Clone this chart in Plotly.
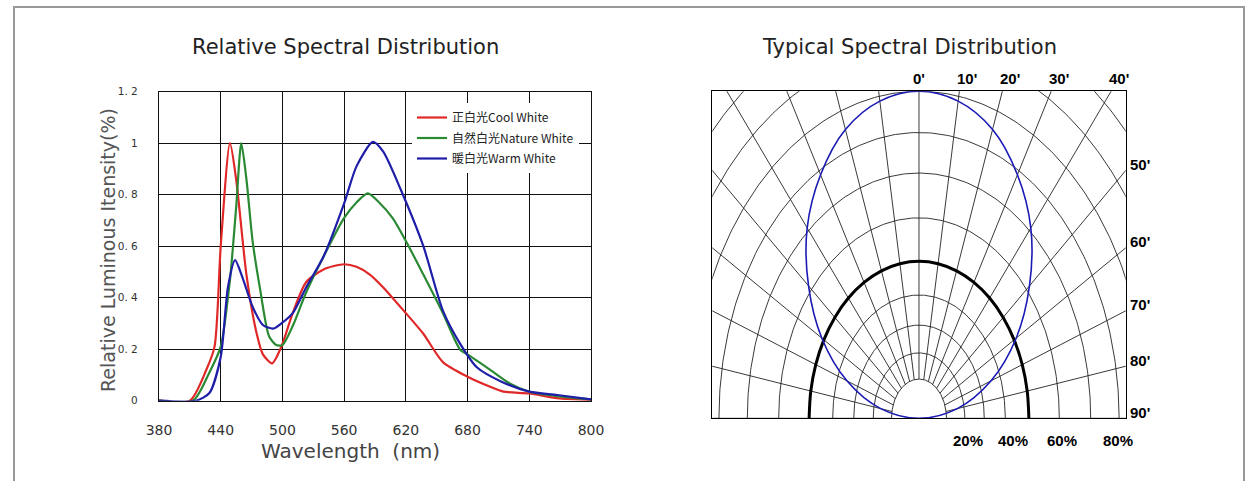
import numpy as np
import plotly.graph_objects as go

# ---------------- Left chart data ----------------
wl_cool = [380, 410, 426, 434, 440, 449, 455, 465, 475, 481, 490, 499, 510, 523, 540, 560,
           572, 585, 598, 620, 637, 656, 680, 702, 715, 740, 767, 800]
val_cool = [0.0, 0.0, 0.12, 0.21, 0.60, 1.0, 0.86, 0.49, 0.26, 0.18, 0.145, 0.21, 0.34, 0.46, 0.51, 0.53,
            0.52, 0.49, 0.44, 0.34, 0.26, 0.15, 0.093, 0.054, 0.035, 0.028, 0.01, 0.003]

wl_nature = [380, 413, 429, 440, 449, 455, 460, 465, 471, 478, 487, 494, 500, 510, 523, 540, 560,
             572, 583, 594, 607, 620, 637, 656, 673, 680, 702, 721, 740, 767, 800]
val_nature = [0.0, 0.0, 0.11, 0.21, 0.47, 0.75, 1.0, 0.86, 0.62, 0.44, 0.25, 0.216, 0.216, 0.29, 0.42, 0.56, 0.71,
              0.77, 0.805, 0.77, 0.71, 0.62, 0.49, 0.34, 0.197, 0.18, 0.12, 0.067, 0.035, 0.018, 0.005]

wl_warm = [380, 416, 429, 440, 447, 454, 461, 471, 481, 491, 499, 510, 523, 540, 560, 572, 588,
           598, 615, 637, 656, 673, 689, 713, 740, 767, 800]
val_warm = [0.0, 0.0, 0.03, 0.17, 0.44, 0.546, 0.48, 0.365, 0.294, 0.28, 0.30, 0.34, 0.44, 0.56, 0.766, 0.91, 1.005,
            0.967, 0.82, 0.60, 0.35, 0.22, 0.13, 0.074, 0.035, 0.022, 0.005]

series_names = ["正白光Cool White", "自然白光Nature White", "暖白光Warm White"]
series_colors = ["#e02828", "#2a8a34", "#1e1ea8"]

x_ticks = [380, 440, 500, 560, 620, 680, 740, 800]
y_ticks = [0, 0.2, 0.4, 0.6, 0.8, 1.0, 1.2]
y_ticktext = ["0", "0. 2", "0. 4", "0. 6", "0. 8", "1", "1. 2"]

# ---------------- Right chart data (polar diagram) ----------------
grid_angles = [-90, -80, -70, -60, -50, -40, -30, -20, -10, 0, 10, 20, 30, 40, 50, 60, 70, 80, 90]
grid_radii = [0.12, 0.20, 0.285, 0.377, 0.48, 0.613, 0.75, 0.874, 1.0, 1.13, 1.26, 1.4]
curve_angles = [-90, -80, -70, -60, -50, -40, -30, -20, -10, 0, 10, 20, 30, 40, 50, 60, 70, 80, 90]
blue_r = [0.0, 0.17, 0.335, 0.49, 0.63, 0.76, 0.86, 0.94, 0.985, 1.0,
          0.985, 0.94, 0.86, 0.76, 0.63, 0.49, 0.335, 0.17, 0.0]
black_r = [0.48, 0.48, 0.48, 0.48, 0.48, 0.48, 0.48, 0.48, 0.48, 0.48,
           0.48, 0.48, 0.48, 0.48, 0.48, 0.48, 0.48, 0.48, 0.48]
top_labels = [0, 10, 20, 30, 40]
side_labels = [50, 60, 70, 80, 90]
bottom_labels = ["20%", "40%", "60%", "80%"]

W, H = 1251, 481


def px(x):
    return x / W


def py(y):
    return 1 - y / H


fig = go.Figure()

# left chart curves
for wl, val, name, col in zip([wl_cool, wl_nature, wl_warm], [val_cool, val_nature, val_warm],
                              series_names, series_colors):
    fig.add_trace(go.Scatter(x=wl, y=val, mode="lines", name=name,
                             line=dict(color=col, width=2.2, shape="spline", smoothing=0.7),
                             xaxis="x", yaxis="y", legendgroup=name))

# right chart: polar grid
XR = 0.903
for ang in grid_angles:
    t = np.radians(ang)
    rr = np.array([grid_radii[0], 3.0])
    fig.add_trace(go.Scatter(x=rr * np.sin(t), y=rr * np.cos(t), mode="lines",
                             line=dict(color="#222", width=0.9), showlegend=False,
                             hoverinfo="skip", xaxis="x2", yaxis="y2"))
for r in grid_radii:
    t = np.radians(np.linspace(-90, 90, 241))
    fig.add_trace(go.Scatter(x=r * np.sin(t), y=r * np.cos(t), mode="lines",
                             line=dict(color="#222", width=0.9), showlegend=False,
                             hoverinfo="skip", xaxis="x2", yaxis="y2"))

ca = np.radians(curve_angles)
fig.add_trace(go.Scatter(x=np.array(black_r) * np.sin(ca), y=np.array(black_r) * np.cos(ca),
                         mode="lines", line=dict(color="#000", width=3, shape="spline"),
                         showlegend=False, xaxis="x2", yaxis="y2"))
fig.add_trace(go.Scatter(x=np.array(blue_r) * np.sin(ca), y=np.array(blue_r) * np.cos(ca),
                         mode="lines", line=dict(color="#1a1ab4", width=1.6, shape="spline"),
                         showlegend=False, xaxis="x2", yaxis="y2"))

C = dict(xanchor="center", yanchor="middle", showarrow=False)
annotations = [
    dict(text="Relative Spectral Distribution", x=px(345), y=py(47), xref="paper", yref="paper",
         font=dict(family="DejaVu Sans", size=21, color="#222"), **C),
    dict(text="Typical Spectral Distribution", x=px(909), y=py(47), xref="paper", yref="paper",
         font=dict(family="DejaVu Sans", size=21, color="#222"), **C),
    dict(text="Relative Luminous Itensity(%)", x=px(108), y=py(250), xref="paper", yref="paper",
         textangle=-90, font=dict(family="DejaVu Sans", size=19, color="#555"), **C),
    dict(text="Wavelength  (nm)", x=px(350), y=py(451), xref="paper", yref="paper",
         font=dict(family="DejaVu Sans", size=20, color="#444"), **C),
]
lab_font = dict(family="Liberation Sans Narrow, Liberation Sans", size=15, color="#000")
for a in top_labels:
    annotations.append(dict(text=f"<b>{a}'</b>", x=float(np.tan(np.radians(a))), y=1.0, xref="x2", yref="y2",
                            showarrow=False, xanchor="center", yanchor="middle",
                            yshift=13, xshift=(8 if a else 0), font=lab_font))
for a in side_labels:
    annotations.append(dict(text=f"<b>{a}'</b>", x=XR, y=float(XR / np.tan(np.radians(a))), xref="x2", yref="y2",
                            showarrow=False, xanchor="left", yanchor="middle", xshift=2, yshift=6, font=lab_font))
for lab, xp in zip(bottom_labels, [968, 1013, 1062, 1118]):
    annotations.append(dict(text=f"<b>{lab}</b>", x=px(xp), y=py(440), xref="paper", yref="paper",
                            font=lab_font, **C))

fig.update_layout(
    template="none",
    width=W, height=H, margin=dict(l=0, r=0, t=0, b=0, pad=0), autosize=False,
    paper_bgcolor="white", plot_bgcolor="white",
    xaxis=dict(domain=[px(159), px(591)], range=[380, 800], tickvals=x_ticks, automargin=False,
               showgrid=True, gridcolor="#111", gridwidth=1, zeroline=False,
               showline=True, linecolor="#111", linewidth=1.2, mirror=True,
               ticks="", ticklabelstandoff=16,
               tickfont=dict(family="DejaVu Sans", size=14, color="#333"), anchor="y"),
    yaxis=dict(domain=[py(400.7), py(91.7)], range=[0, 1.2], tickvals=y_ticks, ticktext=y_ticktext,
               automargin=False,
               showgrid=True, gridcolor="#111", gridwidth=1, zeroline=False,
               showline=True, linecolor="#111", linewidth=1.2, mirror=True,
               ticks="", ticklabelstandoff=18,
               tickfont=dict(family="DejaVu Sans", size=10.5, color="#333"), anchor="x"),
    xaxis2=dict(domain=[px(712.3), px(1125.7)], range=[-XR, XR], showgrid=False, zeroline=False,
                automargin=False,
                showticklabels=False, showline=True, linecolor="#000", linewidth=1.2, mirror=True,
                anchor="y2"),
    yaxis2=dict(domain=[py(418.3), py(91.3)], range=[0, 1.0], showgrid=False, zeroline=False,
                automargin=False,
                showticklabels=False, showline=True, linecolor="#000", linewidth=1.2, mirror=True,
                anchor="x2"),
    legend=dict(x=px(412), y=py(103), xanchor="left", yanchor="top", bgcolor="white",
                font=dict(family="Noto Sans CJK SC", size=12, color="#222"),
                itemwidth=30, tracegroupgap=1.5, borderwidth=0),
    annotations=annotations,
    shapes=[dict(type="rect", xref="paper", yref="paper", x0=px(14), x1=px(1244), y0=-0.3, y1=py(7),
                 line=dict(color="#999", width=2), fillcolor="rgba(0,0,0,0)", layer="below")],
    showlegend=True,
)

fig.write_html("out.html", config={"displayModeBar": False},
               post_script="document.body.style.margin='0px';document.body.style.overflow='hidden';")
